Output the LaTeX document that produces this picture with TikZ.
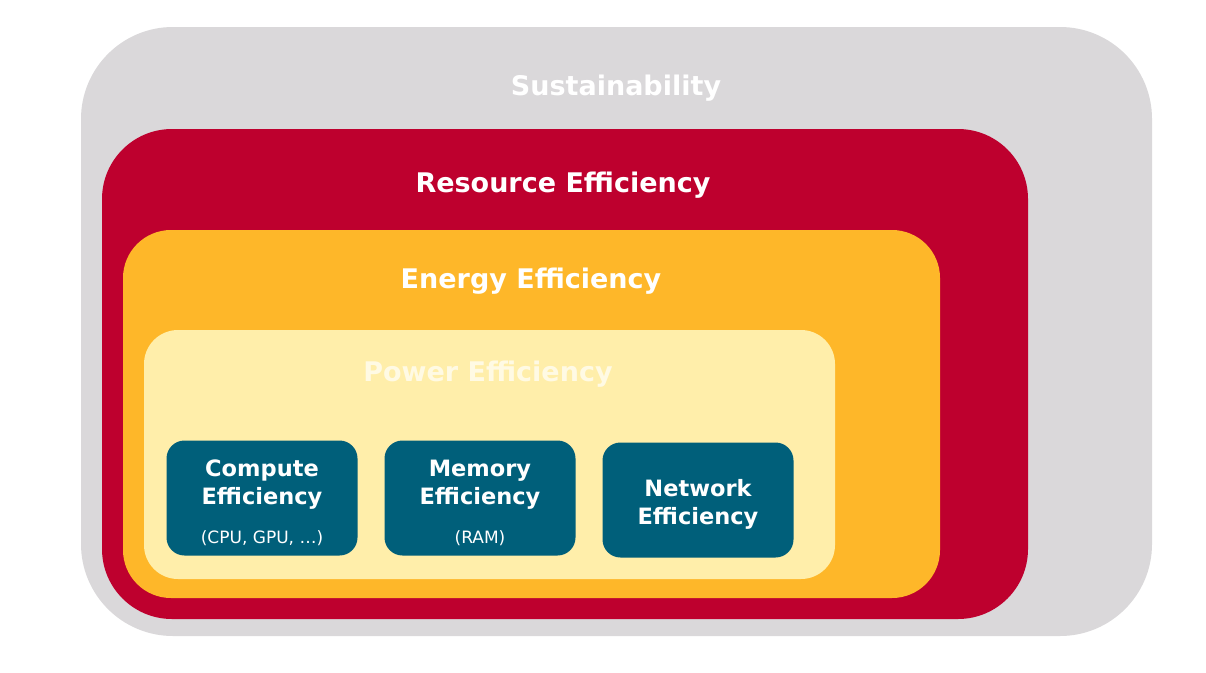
\documentclass[tikz,border=0pt]{standalone}
\usepackage{fontspec}
\setmainfont{DejaVu Sans}
\usetikzlibrary{positioning}
\definecolor{SustGray}{RGB}{218,216,218}
\definecolor{ResRed}{RGB}{190,0,46}
\definecolor{EnOrange}{RGB}{254,183,41}
\definecolor{PowYellow}{RGB}{255,238,170}
\definecolor{PowText}{RGB}{255,250,228}
\definecolor{UnitTeal}{RGB}{0,95,122}
\tikzset{
  title/.style={font=\bfseries\fontsize{27}{30}\selectfont,text=white,anchor=base,inner sep=0pt},
  unit/.style={fill=UnitTeal,rounded corners=18pt,minimum width=191pt,minimum height=115pt,
    inner sep=0pt,text=white,align=center,font=\bfseries\fontsize{22.5}{28}\selectfont},
}
\newcommand{\unitpad}{\rule{0pt}{26pt}}
\newcommand{\unitnote}[1]{\\[11pt]{\mdseries\fontsize{17}{20}\selectfont #1}}

\begin{document}
\begin{tikzpicture}[x=1pt,y=-1pt]
\useasboundingbox[fill=white] (0,0) rectangle (1206,672);
% nested layers
\fill[SustGray,rounded corners=92pt] (81,27) rectangle (1152,636);
\fill[ResRed,rounded corners=70pt] (102,129) rectangle (1028,619);
\fill[EnOrange,rounded corners=48pt] (123,230) rectangle (940,598);
\fill[PowYellow,rounded corners=34pt] (144,330) rectangle (835,579);
% layer titles
\node[title] (sustlab) at (616,95) {Sustainability};
\node[title] (reslab) at (563,192) {Resource Efficiency};
\node[title] (enlab) at (531,288) {Energy Efficiency};
\node[title,text=PowText] (powlab) at (488,381) {Power Efficiency};
% units
\node[unit] (compute) at (262,498) {\unitpad Compute\\Efficiency\unitnote{(CPU, GPU, …)}};
\node[unit] (memory) at (480,498) {\unitpad Memory\\Efficiency\unitnote{(RAM)}};
\node[unit] (network) at (698,500) {\unitpad Network\\Efficiency};
\end{tikzpicture}
\end{document}
